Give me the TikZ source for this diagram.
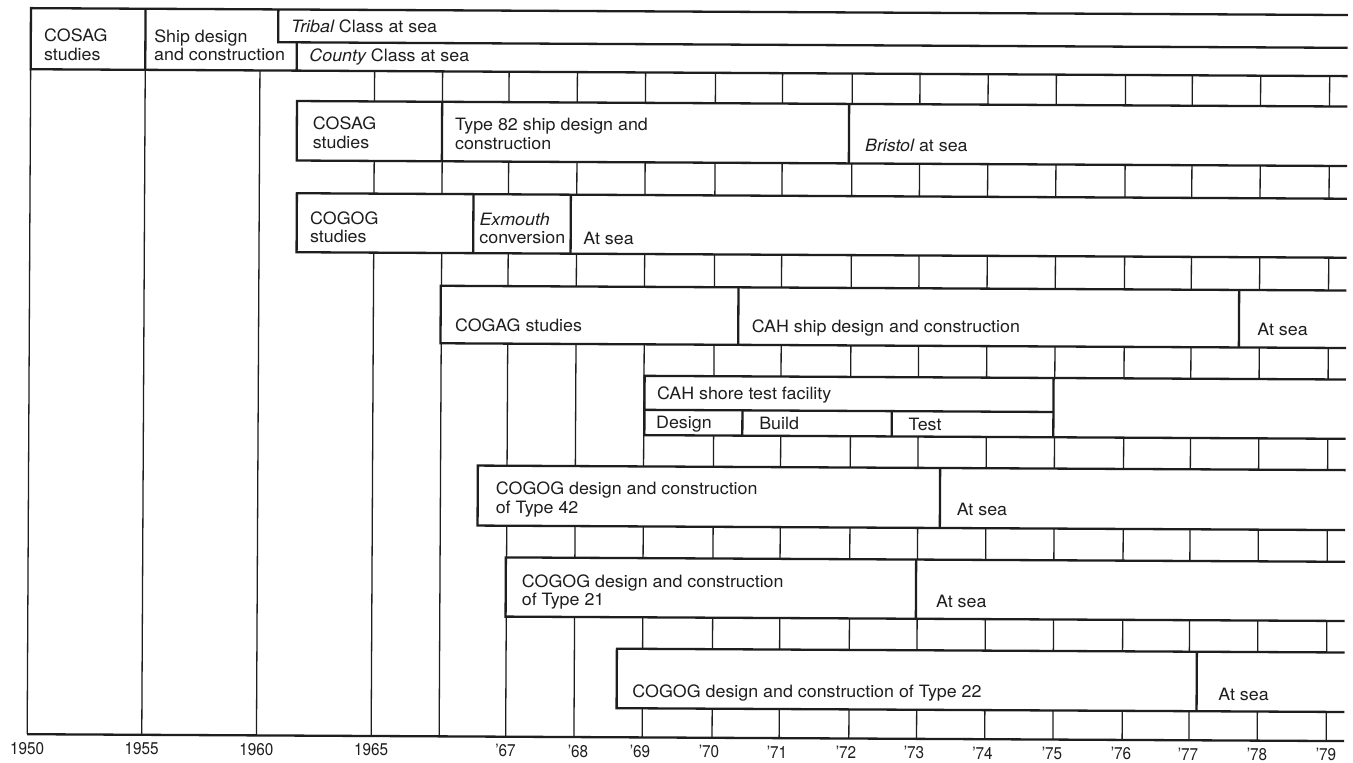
\documentclass[tikz,border=0pt]{standalone}
\usepackage{fontspec}
\setmainfont{TeX Gyre Heros}[FakeStretch=1.05]
\newfontfamily\yearfont{TeX Gyre Heros}[FakeStretch=0.9]
\definecolor{ink}{HTML}{1E1E1E}
\tikzset{
  grid line/.style={draw=ink, line width=1.3pt},
  band line/.style={draw=ink, line width=2.3pt, line join=miter},
  lab/.style={anchor=base west, inner sep=0pt, text=ink, font=\fontsize{17}{20}\selectfont},
  yr/.style={anchor=base, inner sep=0pt, text=ink, font=\yearfont\fontsize{17}{20}\selectfont},
}
\newcommand\bandbox[3]{%
  \fill[white] (#1,#2) rectangle (1346,#3);
  \draw[band line] (1346,#2) -- (#1,#2) -- (#1,#3) -- (1346,#3);
}
\begin{document}
\begin{tikzpicture}[x=1pt,y=-1pt]
\useasboundingbox[fill=white] (0,0) rectangle (1353,763);
\begin{scope}[rotate around={-0.3:(676,381)}]
% grid verticals
\foreach \gx in {29,143.6,258.3,373,441,507.5,575.8,644,713.9,781,850.7,918.4,986.6,1054.8,1124,1190.8,1259.1,1328.1}
  \draw[grid line] (\gx,72.6) -- (\gx,737.6);
% axis
\draw[band line] (29,737.6) -- (1346,737.6);
% year labels
\node[yr] (y1950) at (29,757.6) {1950};
\node[yr] (y1955) at (143.6,757.6) {1955};
\node[yr] (y1960) at (258.3,757.6) {1960};
\node[yr] (y1965) at (373,757.6) {1965};
\node[yr] (y1967) at (507.5,757.6) {’67};
\node[yr] (y1968) at (580,757.6) {’68};
\node[yr] (y1969) at (642,757.6) {’69};
\node[yr] (y1970) at (711,757.6) {’70};
\node[yr] (y1971) at (779,757.6) {’71};
\node[yr] (y1972) at (848,757.6) {’72};
\node[yr] (y1973) at (916,757.6) {’73};
\node[yr] (y1974) at (984.5,757.6) {’74};
\node[yr] (y1975) at (1054,757.6) {’75};
\node[yr] (y1976) at (1123,757.6) {’76};
\node[yr] (y1977) at (1190,757.6) {’77};
\node[yr] (y1978) at (1259,757.6) {’78};
\node[yr] (y1979) at (1328,757.6) {’79};

% ---- top row
\fill[white] (29,11.5) rectangle (1346,72.6);
\draw[band line] (1346,11.5) -- (29,11.5) -- (29,72.6) -- (1346,72.6);
\draw[band line] (143.6,11.5) -- (143.6,72.6);
\draw[band line] (276.4,11.5) -- (276.4,44.3) -- (1346,44.3);
\draw[band line] (295,44.3) -- (295,72.6);
\node[lab] (cosag1a) at (42.2,45.2) {COSAG};
\node[lab] (cosag1b) at (42.2,63.5) {studies};
\node[lab] (ship1a) at (152.3,45.2) {Ship design};
\node[lab] (ship1b) at (152.3,63.5) {and construction};
\node[lab] (tribal) at (289.1,34.3) {\itshape Tribal\upshape{} Class at sea};
\node[lab] (county) at (307.6,63.8) {\itshape County\upshape{} Class at sea};

% ---- band 2
\bandbox{295.5}{103}{162.5}
\draw[band line] (440.7,103) -- (440.7,162.5);
\draw[band line] (847.7,103) -- (847.7,162.5);
\node[lab] (cosag2a) at (311.4,131.3) {COSAG};
\node[lab] (cosag2b) at (311.4,150.3) {studies};
\node[lab] (t82a) at (453.7,131.3) {Type 82 ship design and};
\node[lab] (t82b) at (453.7,150.3) {construction};
\node[lab] (bristol) at (863.7,150.8) {\itshape Bristol\upshape{} at sea};

% ---- band 3
\bandbox{295.9}{195.2}{254.2}
\draw[band line] (472.5,195.2) -- (472.5,254.2);
\draw[band line] (569.9,195.2) -- (569.9,254.2);
\node[lab] (cogog3a) at (309.2,226.2) {COGOG};
\node[lab] (cogog3b) at (309.2,244.5) {studies};
\node[lab] (exma) at (478.5,226.2) {\itshape Exmouth};
\node[lab] (exmb) at (478.5,244.5) {conversion};
\node[lab] (sea3) at (582.5,244.5) {At sea};

% ---- band 4
\bandbox{440.3}{287}{344.5}
\draw[band line] (738,287) -- (738,344.5);
\draw[band line] (1238.7,287) -- (1238.7,344.5);
\node[lab] (cogag) at (454.6,332.2) {COGAG studies};
\node[lab] (cah) at (751.3,332.2) {CAH ship design and construction};
\node[lab] (sea4) at (1257,332.2) {At sea};

% ---- band 5
\bandbox{644.6}{376}{435.3}
\draw[band line] (1053.6,376) -- (1053.6,435.3);
\draw[band line] (644.6,410) -- (1053.6,410);
\draw[band line] (742.6,410) -- (742.6,435.3);
\draw[band line] (892,410) -- (892,435.3);
\node[lab] (shore) at (656.9,399.3) {CAH shore test facility};
\node[lab] (design) at (656.2,428.9) {Design};
\node[lab] (build) at (759.3,428.9) {Build};
\node[lab] (test) at (908.6,428.9) {Test};

% ---- band 6
\bandbox{478.3}{466.6}{526.6}
\draw[band line] (940.6,466.6) -- (940.6,526.6);
\node[lab] (t42a) at (496.3,495.9) {COGOG design and construction};
\node[lab] (t42b) at (496.3,514) {of Type 42};
\node[lab] (sea6) at (957.3,514) {At sea};

% ---- band 7
\bandbox{506.8}{558.3}{617.5}
\draw[band line] (917.1,558.3) -- (917.1,617.5);
\node[lab] (t21a) at (522.8,588.3) {COGOG design and construction};
\node[lab] (t21b) at (522.8,606.5) {of Type 21};
\node[lab] (sea7) at (937.1,606.3) {At sea};

% ---- band 8
\bandbox{618.3}{649}{708.5}
\draw[band line] (1198.3,649) -- (1198.3,708.5);
\node[lab] (t22) at (633.9,697.8) {COGOG design and construction of Type 22};
\node[lab] (sea8) at (1219.9,697.8) {At sea};
\end{scope}
\end{tikzpicture}
\end{document}
